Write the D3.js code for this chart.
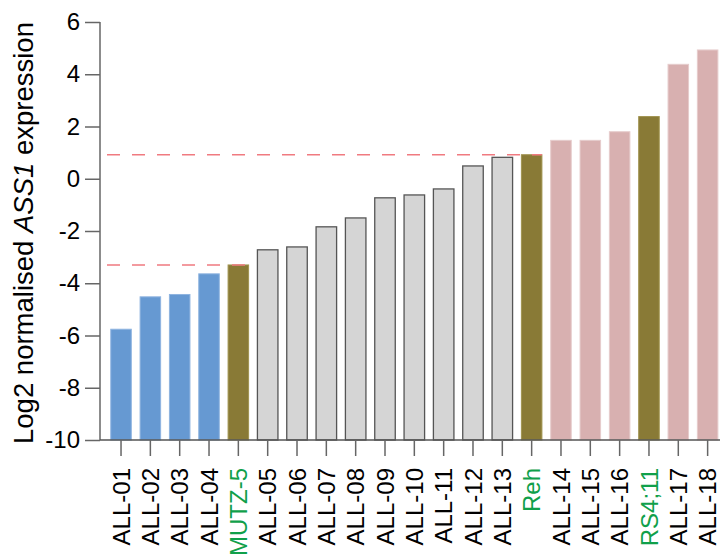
<!DOCTYPE html>
<html>
<head>
<meta charset="utf-8">
<script src="https://cdn.jsdelivr.net/npm/d3@7"></script>
<style>
  html, body { margin: 0; padding: 0; background: #fff; }
  svg { display: block; font-family: "Liberation Sans", Arial, sans-serif; }
</style>
</head>
<body>
<svg id="chart" width="720" height="556"></svg>
<script>
// Samples ordered by ASS1 expression
const samples = ["ALL-01","ALL-02","ALL-03","ALL-04","MUTZ-5","ALL-05","ALL-06","ALL-07","ALL-08","ALL-09","ALL-10","ALL-11","ALL-12","ALL-13","Reh","ALL-14","ALL-15","ALL-16","RS4;11","ALL-17","ALL-18"];
const expression = [-5.76,-4.52,-4.43,-3.64,-3.30,-2.72,-2.61,-1.84,-1.50,-0.73,-0.62,-0.39,0.49,0.82,0.92,1.47,1.47,1.80,2.38,4.38,4.93];
// group: low, line (cell line), mid, high
const groups = ["low","low","low","low","line","mid","mid","mid","mid","mid","mid","mid","mid","mid","line","high","high","high","line","high","high"];
const yTicks = [-10,-8,-6,-4,-2,0,2,4,6];
// Threshold levels set by the MUTZ-5 and Reh cell lines
const thresholds = [
  { value: -3.30, until: "MUTZ-5" },
  { value: 0.92, until: "Reh" }
];

const fills = { low: "#6699d2", line: "#897a36", mid: "#d5d5d5", high: "#d8b0b0" };
const strokes = { low: "#8fb4e0", line: "#a0934f", mid: "#555555", high: "#e6cccc" };

const svg = d3.select("#chart");
const x0 = 100, yTop = 22, yBottom = 440;
const step = 29.33, padIn = 0.3;

const y = d3.scaleLinear().domain([-10, 6]).range([yBottom, yTop]);
const x = d3.scaleBand().domain(samples)
  .range([96.1, 96.1 + step * (samples.length - padIn + 1)])
  .paddingInner(padIn).paddingOuter(0.5);

// Bars
svg.append("g").selectAll("rect").data(samples).join("rect")
  .attr("x", d => x(d))
  .attr("width", x.bandwidth())
  .attr("y", (d, i) => y(expression[i]))
  .attr("height", (d, i) => y(-10) - y(expression[i]))
  .attr("fill", (d, i) => fills[groups[i]])
  .attr("stroke", (d, i) => strokes[groups[i]])
  .attr("stroke-width", (d, i) => groups[i] === "mid" ? 1.3 : 1);

// Threshold lines
svg.append("g").selectAll("line").data(thresholds).join("line")
  .attr("x1", x0)
  .attr("x2", d => x(d.until) + x.bandwidth())
  .attr("y1", d => y(d.value))
  .attr("y2", d => y(d.value))
  .attr("stroke", "#f07a80")
  .attr("stroke-width", 1.5)
  .attr("stroke-dasharray", "13,12")
  .attr("stroke-dashoffset", 18);

// Y axis
const yAxis = svg.append("g").attr("transform", `translate(${x0},0)`)
  .call(d3.axisLeft(y).tickValues(yTicks).tickSize(15).tickPadding(5).tickFormat(d3.format("d")));
yAxis.select(".domain").attr("stroke", "#666").attr("stroke-width", 1.5).attr("d", `M0,${yTop}V${yBottom}`);
yAxis.selectAll(".tick line").attr("stroke", "#666").attr("stroke-width", 1.5);
yAxis.selectAll(".tick text").attr("font-size", 24).attr("fill", "#000")
  .attr("font-family", "Liberation Sans, Arial, sans-serif")
  .text(d => d < 0 ? "-" + Math.abs(d) : d);

// X axis
const xAxis = svg.append("g").attr("transform", `translate(0,${yBottom})`)
  .call(d3.axisBottom(x).tickSize(16).tickPadding(0));
xAxis.select(".domain").attr("stroke", "#555").attr("stroke-width", 1.5).attr("d", `M${x0},0H720`);
xAxis.selectAll(".tick line").attr("stroke", "#666").attr("stroke-width", 1.5);
xAxis.selectAll(".tick text")
  .attr("font-size", 24)
  .attr("font-family", "Liberation Sans, Arial, sans-serif")
  .attr("fill", (d, i) => groups[i] === "line" ? "#10a04a" : "#000")
  .attr("text-anchor", "end")
  .attr("transform", "translate(0,28) rotate(-90)")
  .attr("x", 0).attr("y", 0).attr("dy", "0.36em");

// Y label
const ylab = svg.append("text")
  .attr("transform", "translate(33,233) rotate(-90)")
  .attr("text-anchor", "middle")
  .attr("font-size", 27.5)
  .attr("fill", "#000");
ylab.append("tspan").text("Log2 normalised ");
ylab.append("tspan").attr("font-style", "italic").text("ASS1");
ylab.append("tspan").text(" expression");
</script>
</body>
</html>
